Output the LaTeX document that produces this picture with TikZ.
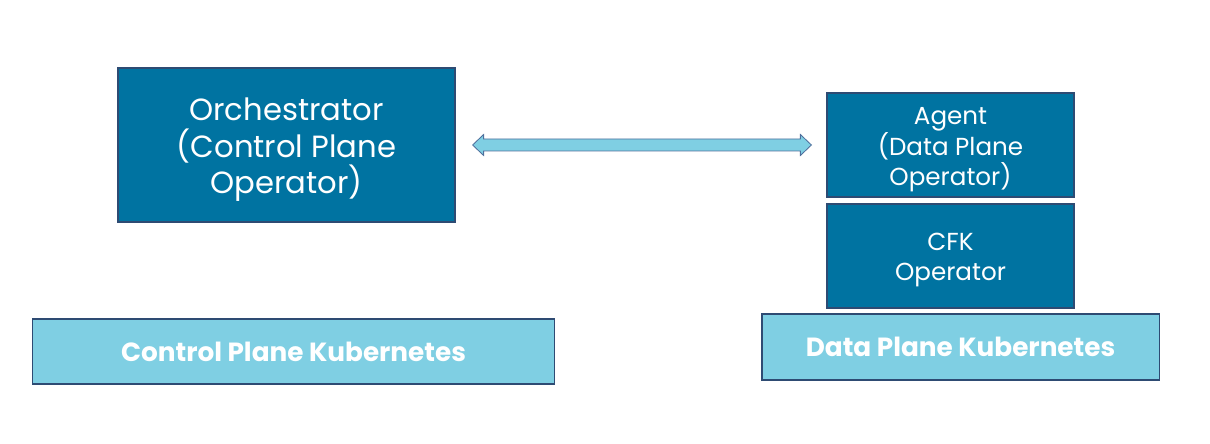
\documentclass[tikz,border=0pt]{standalone}
\usepackage{fontspec}
\setmainfont{Poppins}
\usetikzlibrary{calc}

\definecolor{opblue}{HTML}{0073A1}
\definecolor{k8sblue}{HTML}{7FCFE3}
\definecolor{edgeblue}{HTML}{2E4B73}
\definecolor{arrowedge}{HTML}{4F6F9C}

\tikzset{
  opbox/.style={draw=edgeblue,line width=0.8pt,fill=opblue,inner sep=0pt},
  optext/.style={text=white,align=center,inner sep=0pt},
  k8sbox/.style={draw=edgeblue,line width=0.8pt,fill=k8sblue,text=white,inner sep=0pt,
    font=\bfseries\fontsize{18.7}{22}\selectfont}
}

\begin{document}
\begin{tikzpicture}[x=0.025cm,y=-0.025cm]
  \useasboundingbox (0,0) rectangle (1210,444);
  % control plane side
  \node[opbox,minimum width=8.425cm,minimum height=3.85cm] (orch) at (286.5,145) {};
  \node[optext,font=\fontsize{21.8}{25.9}\selectfont] (orchtext) at ($(orch)+(0,5)$)
    {Orchestrator\\(Control Plane\\Operator)};
  \node[k8sbox,minimum width=13.025cm,minimum height=1.625cm] (cpk8s) at (293.5,351.5) {Control Plane Kubernetes};
  % data plane side
  \node[opbox,minimum width=6.175cm,minimum height=2.6cm] (agent) at (950.5,145) {};
  \node[optext,font=\fontsize{17.5}{21.6}\selectfont] (agenttext) at ($(agent)+(0,5)$)
    {Agent\\(Data Plane\\Operator)};
  \node[opbox,minimum width=6.175cm,minimum height=2.6cm] (cfk) at (950.5,256) {};
  \node[optext,font=\fontsize{17.5}{21.6}\selectfont] (cfktext) at ($(cfk)+(0,4)$)
    {CFK\\Operator};
  \node[k8sbox,minimum width=9.925cm,minimum height=1.65cm] (dpk8s) at (960.5,347) {Data Plane Kubernetes};
  % two-way arrow between the operators
  \coordinate (tipL) at ($(orch.east)+(17,0)$);
  \coordinate (tipR) at ($(agent.west)+(-15,0)$);
  \draw[arrowedge,fill=k8sblue,line width=0.6pt]
    (tipL) -- ++(11,-10.5) -- ++(0,4.5) -- ($(tipR)+(-11,-6)$) -- ++(0,-4.5) -- (tipR)
    -- ++(-11,10.5) -- ++(0,-4.5) -- ($(tipL)+(11,6)$) -- ++(0,4.5) -- cycle;
\end{tikzpicture}
\end{document}
